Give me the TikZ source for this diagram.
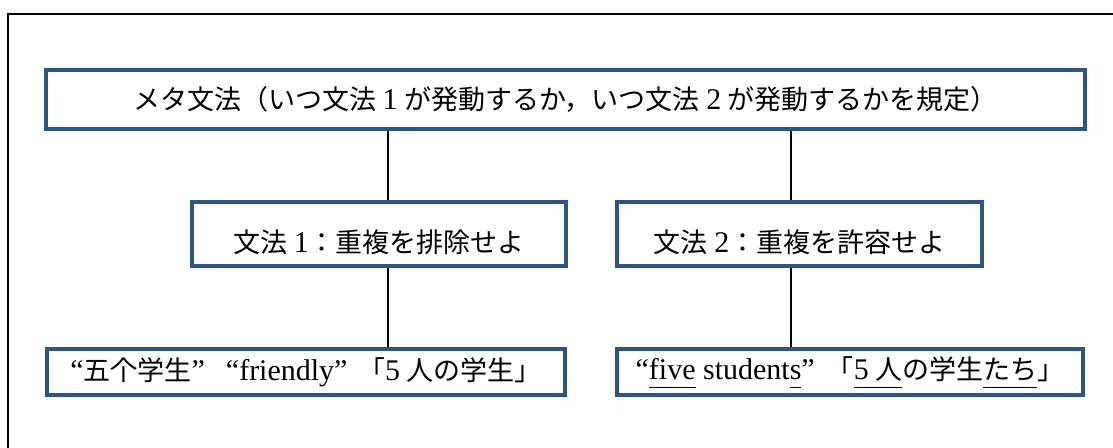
\documentclass[tikz,border=0pt]{standalone}
\usepackage{fontspec}
\setmainfont{Liberation Serif}
\newfontfamily\jpf[Scale=0.9]{Noto Sans CJK JP}
\newcommand{\jp}[1]{{\jpf #1}}
\newcommand{\ulx}[1]{\underline{\vphantom{y}#1}}
\newcommand{\js}{\hspace{0.22em}}
\definecolor{boxblue}{RGB}{46,84,130}
\begin{document}
\begin{tikzpicture}[x=1bp,y=-1bp,
  box/.style={draw=boxblue, line width=4bp, inner sep=0pt, fill=white,
    font=\fontsize{30bp}{34bp}\selectfont},
  link/.style={draw=black, line width=1.5bp}]
\useasboundingbox (0,0) rectangle (1113,448);
\fill[white] (0,0) rectangle (1113,448);
\draw[line width=2bp] (7.5,470) -- (7.5,14.5) -- (1130,14.5);
\node[box, minimum width=1039bp, minimum height=59bp] (top) at (565.5,99.5)
  {\jp{メタ文法（いつ文法}\js 1\js\jp{が発動するか，いつ文法}\js 2\js\jp{が発動するかを規定）}};
\node[box, minimum width=374bp, minimum height=64bp] (midL) at (379,234)
  {\raisebox{-19bp}[0pt][0pt]{\jp{文法}\js 1\jp{：重複を排除せよ}}};
\node[box, minimum width=365bp, minimum height=64bp] (midR) at (799.5,234)
  {\raisebox{-19bp}[0pt][0pt]{\jp{文法}\js 2\jp{：重複を許容せよ}}};
\node[box, minimum width=518bp, minimum height=46bp] (botL) at (306,372)
  {“\jp{五个学生}”\hspace{0.7em}“friendly”\hspace{0.35em}\jp{「}5\js\jp{人の学生」}};
\node[box, minimum width=466bp, minimum height=46bp] (botR) at (850,372)
  {“\ulx{five} student\ulx{s}”\hspace{0.4em}\jp{「}\ulx{5\js\jp{人}}\jp{の学生}\ulx{\jp{たち}}\jp{」}};
\coordinate (cL) at (388,0);
\coordinate (cR) at (791,0);
\draw[link] (top.south -| cL) -- (midL.north -| cL);
\draw[link] (midL.south -| cL) -- (botL.north -| cL);
\draw[link] (top.south -| cR) -- (midR.north -| cR);
\draw[link] (midR.south -| cR) -- (botR.north -| cR);
\end{tikzpicture}
\end{document}
